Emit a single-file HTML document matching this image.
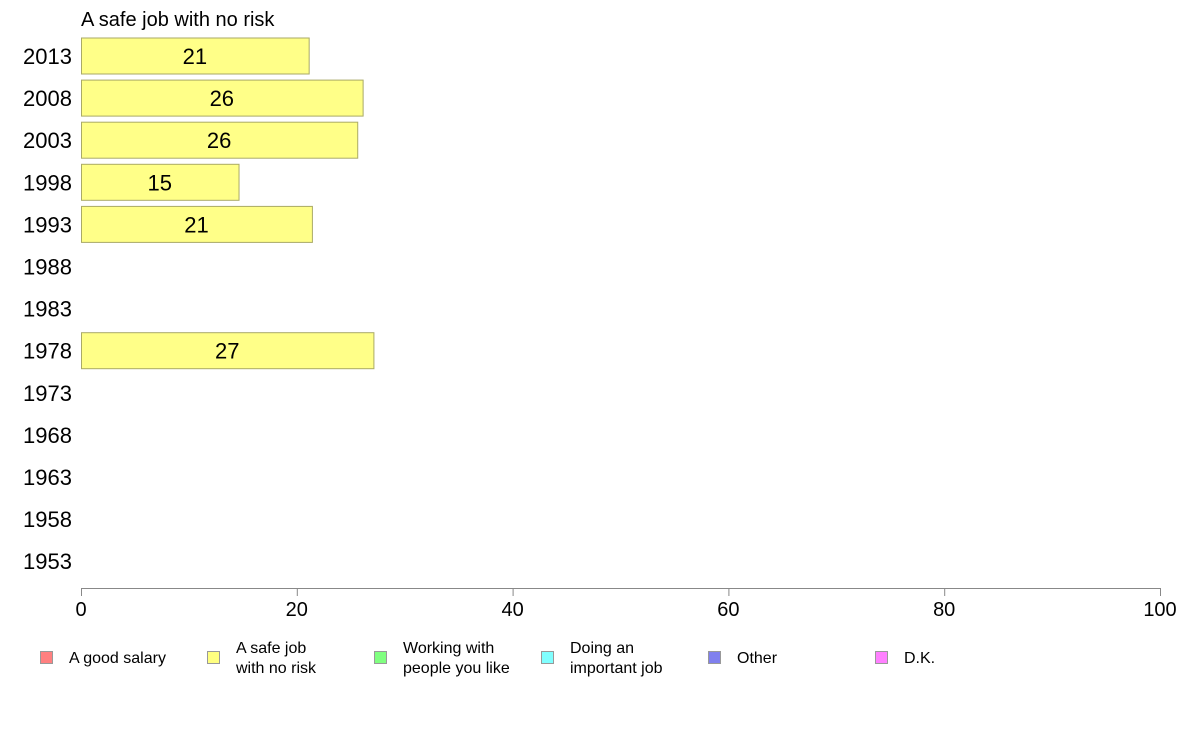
<!DOCTYPE html>
<html><head><meta charset="utf-8"><style>
body{margin:0;background:#fff;font-family:"Liberation Sans",Arial,sans-serif}
svg text{font-family:"Liberation Sans",Arial,sans-serif}
</style></head><body>
<svg id="chart" width="1188" height="736" xmlns="http://www.w3.org/2000/svg">
<text x="81" y="26" font-size="20" fill="#000">A safe job with no risk</text>
<g id="bars"></g>
<g id="yaxis"></g>
<g id="xaxis"></g>
<g id="legend"></g>
</svg>
<script>
const years=["2013","2008","2003","1998","1993","1988","1983","1978","1973","1968","1963","1958","1953"];
const values=[21.1,26.1,25.6,14.6,21.4,null,null,27.1,null,null,null,null,null];
const labels=["21","26","26","15","21","","","27","","","","",""];
const xTicks=[0,20,40,60,80,100];
const legendLabels=[["A good salary"],["A safe job","with no risk"],["Working with","people you like"],["Doing an","important job"],["Other"],["D.K."]];
const legendColors=["#ff8080","#ffff80","#80ff80","#80ffff","#8080ee","#ff80ff"];
const NS="http://www.w3.org/2000/svg";
const x0=81,x1=1160,yTop=56,yStep=42.1,bh=36;
const xs=v=>x0+(v/100)*(x1-x0);
const ys=i=>yTop+i*yStep;
function mk(t,a,p){const e=document.createElementNS(NS,t);for(const k in a)e.setAttribute(k,a[k]);p.appendChild(e);return e;}
const bars=document.getElementById('bars'),ya=document.getElementById('yaxis'),xa=document.getElementById('xaxis'),lg=document.getElementById('legend');
years.forEach((y,i)=>{
 const t=mk('text',{x:72,y:ys(i)+8,'font-size':22,'text-anchor':'end',fill:'#000'},ya);t.textContent=y;
 
 
 if(values[i]!=null){
  const r=mk('rect',{x:x0+0.5,y:ys(i)-bh/2,width:xs(values[i])-x0,height:bh,fill:'#ffff88',stroke:'#aaaa66','stroke-width':1},bars);
  
  
  const l=mk('text',{x:(x0+xs(values[i]))/2,y:ys(i)+8,'font-size':22,'text-anchor':'middle',fill:'#000'},bars);l.textContent=labels[i];
  
  
 }
});
const al=mk('line',{x1:x0,x2:x1,y1:588.5,y2:588.5,stroke:'#888'},xa);


xTicks.forEach(v=>{
 const tk=mk('line',{x1:xs(v)+0.5,x2:xs(v)+0.5,y1:588,y2:596,stroke:'#888'},xa);
 
 
 const t=mk('text',{x:xs(v),y:616,'font-size':20,'text-anchor':'middle',fill:'#000'},xa);t.textContent=v;
 
 
});
legendLabels.forEach((lab,i)=>{
 const gx=40+i*167;
 const g=mk('g',{},lg);
 
 
 mk('rect',{x:gx+0.5,y:651.5,width:12,height:12,fill:legendColors[i],stroke:'#999'},g);
 lab.forEach((s,j)=>{
  const t=mk('text',{x:gx+29,y:lab.length==1?663:(653+j*20),'font-size':16,fill:'#000'},g);t.textContent=s;
 });
});
</script>
</body></html>
